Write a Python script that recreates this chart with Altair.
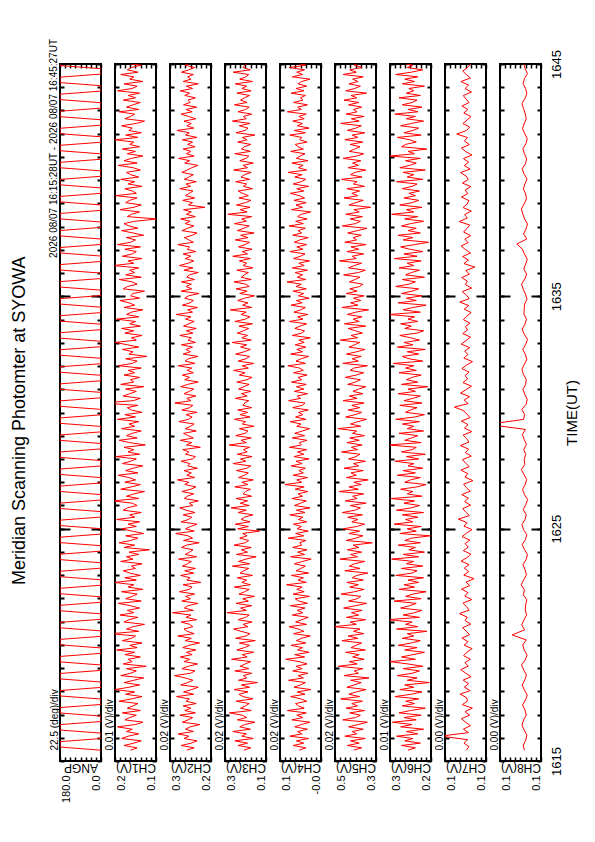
import altair as alt
import numpy as np
import pandas as pd

FONT = "Liberation Sans"

# time span (minutes after 16:00)
T_START = 15 + 28 / 60.0   # 16:15:28
T_END = 45 + 27 / 60.0     # 16:45:27
TIME_TICKS = [15, 25, 35, 45]
TIME_LABELS = ["1615", "1625", "1635", "1645"]

TITLE = "Meridian Scanning Photomter at SYOWA"
DATE_TEXT = "2026 08/07 16:15:28UT - 2026 08/07 16:45:27UT"

# ---- scan angle (ANGP): turning points, seconds after 16:15:00, and angle (deg)
ANGP_SEC = [28, 36, 50, 58, 72, 80, 94, 102, 116, 124, 138, 146, 160, 168, 182, 190,
            204, 212, 226, 234, 248, 256, 270, 278, 292, 300, 314, 322, 336, 344, 358, 366,
            380, 388, 402, 410, 424, 432, 446, 454, 468, 476, 490, 498, 512, 520, 534, 542,
            556, 564, 578, 586, 600, 608, 622, 630, 644, 652, 666, 674, 688, 696, 710, 718,
            732, 740, 754, 762, 776, 784, 798, 806, 820, 828, 842, 850, 864, 872, 886, 894,
            908, 916, 930, 938, 952, 960, 974, 982, 996, 1004, 1018, 1026, 1040, 1048, 1062, 1070,
            1084, 1092, 1106, 1114, 1128, 1136, 1150, 1158, 1172, 1180, 1194, 1202,
            1216, 1224, 1238, 1246, 1260, 1268, 1282, 1290, 1304, 1312, 1326, 1334,
            1348, 1356, 1370, 1378, 1392, 1400, 1414, 1422, 1436, 1444, 1458, 1466,
            1480, 1488, 1502, 1510, 1524, 1532, 1546, 1554, 1568, 1576, 1590, 1598,
            1612, 1620, 1634, 1642, 1656, 1664, 1678, 1686, 1700, 1708, 1722, 1730,
            1744, 1752, 1766, 1774, 1788, 1796, 1810, 1818, 1827]
ANGP_DEG = [0, 180, 180, 0, 0, 180, 180, 0, 0, 180, 180, 0, 0, 180, 180, 0,
            0, 180, 180, 0, 0, 180, 180, 0, 0, 180, 180, 0, 0, 180, 180, 0,
            0, 180, 180, 0, 0, 180, 180, 0, 0, 180, 180, 0, 0, 180, 180, 0,
            0, 180, 180, 0, 0, 180, 180, 0, 0, 180, 180, 0, 0, 180, 180, 0,
            0, 180, 180, 0, 0, 180, 180, 0, 0, 180, 180, 0, 0, 180, 180, 0,
            0, 180, 180, 0, 0, 180, 180, 0, 0, 180, 180, 0, 0, 180, 180, 0,
            0, 180, 180, 0, 0, 180, 180, 0, 0, 180, 180, 0,
            0, 180, 180, 0, 0, 180, 180, 0, 0, 180, 180, 0,
            0, 180, 180, 0, 0, 180, 180, 0, 0, 180, 180, 0,
            0, 180, 180, 0, 0, 180, 180, 0, 0, 180, 180, 0,
            0, 180, 180, 0, 0, 180, 180, 0, 0, 180, 180, 0,
            0, 180, 180, 0, 0, 180, 180, 0, 0]

# ---- photometer channels (mV), evenly sampled over the time span
CH1 = [141,133,149,137,128,152,144,131,146,139,157,135,126,148,142,134,151,129,145,138,
       132,155,140,127,147,136,160,143,130,149,137,125,153,141,134,146,122,150,139,144,
       129,148,136,158,133,142,127,151,140,135,165,131,146,138,124,149,143,132,154,137,
       145,130,141,156,128,147,139,133,152,126,144,137,161,134,148,129,142,150,135,140,
       127,153,138,146,131,143,118,149,136,155,141,132,147,125,139,152,134,144,130,158,
       136,142,128,150,145,133,139,163,131,146,137,124,153,140,129,148,135,143,156,132,
       147,138,126,151,141,134,159,130,144,137,149,123,142,155,133,146,139,128,152,136,
       143,131,157,135,148,127,140,145,132,176,138,129,150,142,134,147,125,153,137,141,
       130,149,136,144,128,156,139,133,147,121,143,138,151,131,145,160,134,140,127,148,
       137,152,129,142,135,158,131,146,140,126,149,136,143,154,130,141,138,124,150,145,
       133,139,155,128,147,136,142,131,162,137,144,127,151,139,134,148,129,157,141,135,
       146,125,138,152,132,143,149,136,108,145,140,130,154,137,128,147,142,133,159,134,
       139,148,127,144,136,153,131,141,146,129,138,156,133,149,140,126,145,135,151,130,
       142,137,160,132,147,128,143,139,152,134,124,148,141,136,155,131,146,138,129,150,
       135,144,130,157,139,133,149,126,142,137,153,132,145,140,128,151,136,143,134,147]
CH2 = [254,236,268,243,229,261,249,275,238,257,246,222,265,251,240,271,233,259,244,263,
       231,256,248,279,237,262,242,226,269,252,239,258,284,245,234,266,250,228,261,247,
       270,241,255,232,264,249,223,258,243,276,236,253,261,239,247,268,230,256,244,289,
       238,260,251,227,266,245,257,235,272,248,241,263,220,254,246,269,237,259,233,265,
       252,243,274,230,258,247,239,267,255,224,262,240,251,281,236,257,245,229,268,250,
       242,263,234,256,271,239,248,226,260,253,237,266,244,232,259,249,277,235,254,243,
       261,228,252,246,268,240,233,257,249,264,221,255,242,270,238,251,262,231,258,245,
       236,273,250,241,256,229,266,247,239,283,244,254,232,261,248,237,269,252,226,259,
       247,265,238,253,242,275,234,258,250,227,263,245,256,240,267,233,251,243,271,239,
       255,231,262,249,236,257,244,280,240,252,228,265,246,238,259,250,224,268,242,256,
       243,267,235,254,248,226,261,239,272,251,237,258,244,263,232,253,247,276,238,249,
       260,241,229,266,252,237,258,246,269,233,255,243,262,210,250,240,264,235,257,248,
       239,271,245,256,231,260,249,238,266,253,242,227,259,247,274,236,255,244,263,234,
       252,240,265,229,257,248,278,237,254,243,261,232,250,268,241,256,230,262,246,251,
       233,259,247,270,240,255,226,263,244,252,238,267,249,235,258,245,272,239,253,246]
CH3 = [204,187,218,195,226,181,209,198,231,188,214,202,177,220,197,208,239,186,212,200,
       191,223,182,206,216,194,228,190,210,171,217,197,205,185,226,192,213,201,187,234,
       196,208,180,221,203,190,215,176,224,199,189,211,229,194,206,184,218,200,191,245,
       198,212,185,223,193,207,178,216,202,191,227,188,209,197,220,183,213,204,192,232,
       190,217,199,174,222,195,210,186,228,201,192,214,196,207,166,219,193,225,189,211,
       202,182,218,198,235,191,213,195,223,185,206,200,188,226,194,209,181,217,203,193,
       222,197,187,230,199,212,184,220,196,205,190,240,198,211,186,224,201,194,215,179,
       208,200,227,189,213,195,219,185,206,202,192,225,196,210,187,217,204,191,221,197,
       184,215,201,229,193,208,180,218,199,190,224,203,188,212,197,233,186,209,195,220,
       205,192,216,183,226,200,189,211,198,237,185,207,194,219,202,178,214,196,223,191,
       199,228,186,210,203,193,221,182,206,197,215,188,231,195,208,184,217,201,190,225,
       194,212,179,220,204,191,227,198,209,185,243,196,213,189,222,200,187,216,193,207,
       218,183,205,197,224,190,211,202,186,229,195,206,181,214,199,192,226,188,210,203,
       187,219,196,208,177,223,201,194,215,189,232,198,205,185,218,200,191,227,196,212,
       203,190,221,186,209,197,225,183,214,199,192,230,188,206,202,195,217,184,211,198]
CH4 = [63,47,78,52,70,40,86,56,67,43,74,58,37,81,54,69,46,92,51,65,
       72,45,59,84,49,68,35,76,60,48,89,53,66,42,79,56,71,44,63,96,
       50,74,39,67,55,83,47,70,58,36,77,52,65,88,45,72,57,41,80,54,
       68,49,85,43,64,73,38,78,51,69,56,94,46,66,53,82,40,71,59,48,
       75,55,34,84,50,67,44,79,57,62,47,90,52,72,41,68,58,77,45,65,
       54,86,49,70,37,75,60,46,81,55,66,42,73,51,98,57,69,43,78,53,
       64,48,83,56,71,39,76,52,67,45,87,58,63,44,80,50,74,55,38,69,
       59,85,47,72,54,65,41,79,56,49,89,60,68,43,75,52,70,46,82,57,
       66,44,77,53,62,91,48,71,58,40,84,55,69,47,73,51,64,36,80,57,
       50,74,61,45,87,54,67,42,76,59,48,83,56,70,39,65,52,78,46,71,
       58,93,47,68,55,73,43,80,51,64,38,77,60,49,86,54,69,45,75,62,
       41,79,57,66,48,88,53,72,44,67,59,35,82,55,71,46,76,50,63,85,
       52,69,40,78,58,47,74,56,90,45,65,54,81,42,70,61,49,84,53,66,
       73,44,62,57,86,48,75,39,68,55,79,51,64,46,92,58,67,43,77,54,
       60,48,83,52,71,45,66,57,37,80,55,69,50,87,47,74,59,42,76,61]
CH5 = [384,365,400,371,392,356,406,377,388,361,397,373,351,411,380,368,394,358,403,375,
       389,363,416,370,396,378,354,401,384,366,392,347,408,373,383,362,422,376,395,359,
       387,371,404,356,391,379,365,413,374,398,360,385,369,433,378,393,355,402,372,390,
       364,409,380,353,397,376,367,415,382,359,394,373,401,361,388,377,350,406,369,395,
       383,357,418,375,392,365,400,372,386,339,403,379,362,396,370,410,377,358,389,374,
       399,363,412,381,368,393,354,405,376,387,360,420,373,396,366,384,349,402,378,391,
       361,408,372,385,356,397,379,369,414,375,390,364,401,371,394,358,387,377,423,367,
       392,374,353,404,381,365,398,370,389,359,410,376,395,362,386,372,355,399,380,368,
       405,378,360,393,384,351,411,373,388,366,402,377,357,396,382,369,417,375,391,363,
       380,398,355,407,371,386,364,400,379,348,413,374,392,367,385,359,403,376,394,370,
       362,395,381,369,409,373,356,397,383,365,419,378,388,360,401,372,391,354,406,377,
       386,366,399,375,352,412,380,368,393,363,404,371,384,343,396,379,361,408,374,389,
       370,401,358,385,376,414,364,392,381,355,398,373,387,367,410,377,360,395,382,369,
       393,362,406,374,388,357,400,379,366,416,371,390,359,403,376,385,365,397,372,408,
       377,391,353,404,382,368,396,374,387,361,410,378,394,364,383,371,357,399,380,386]
CH6 = [263,254,271,248,267,257,277,251,265,244,272,258,282,253,268,247,274,260,242,270,
       255,266,250,279,259,246,273,256,267,237,264,252,276,258,249,269,245,263,285,254,
       271,257,243,267,252,275,259,248,270,256,264,240,277,251,266,258,288,249,269,255,
       246,272,261,253,280,247,266,257,241,274,255,268,250,263,244,278,258,252,271,245,
       265,256,283,250,269,243,262,254,275,248,267,259,236,273,253,264,247,280,257,266,
       251,270,244,277,259,249,268,255,284,246,264,257,272,252,241,267,260,248,276,254,
       269,245,263,256,279,250,265,242,271,258,253,287,247,267,259,251,274,244,264,256,
       270,249,278,255,243,266,260,252,273,246,268,257,248,275,254,263,239,271,251,265,
       258,247,274,253,266,256,281,245,262,270,250,264,242,276,257,268,249,260,273,252,
       244,267,259,272,251,263,255,286,248,269,257,241,275,253,265,246,271,258,250,278,
       262,254,270,243,266,259,249,274,256,264,247,280,252,268,245,261,272,255,238,269,
       257,275,248,263,253,271,260,244,267,251,283,256,265,246,273,258,250,268,254,262,
       249,270,258,252,277,245,264,256,269,242,273,261,253,266,248,285,255,263,240,271,
       266,253,261,276,247,268,257,250,272,259,244,265,254,279,251,263,246,270,258,252,
       274,248,265,256,262,243,270,255,267,251,278,259,245,264,257,272,249,261,253,268]
CH7 = [106.4,104.9,107.8,105.6,121.6,105.2,108.1,104.0,106.9,109.3,104.5,107.2,102.9,108.8,105.8,106.2,110.1,104.2,107.5,105.1,
       108.3,103.6,106.8,109.7,105.3,107.2,104.1,108.0,106.1,103.0,107.7,105.4,109.0,104.5,106.5,108.6,103.8,107.1,105.9,110.4,
       104.8,106.3,108.4,103.3,107.3,105.5,109.2,104.4,106.6,101.9,107.9,105.0,107.6,104.8,109.5,106.0,103.7,108.2,105.3,107.1,
       104.3,108.9,106.3,103.1,107.8,106.0,111.1,104.6,106.7,108.5,103.9,107.4,105.2,109.1,104.1,106.4,108.0,102.6,107.2,105.6,
       109.6,104.7,106.8,108.7,103.5,107.0,105.1,109.9,104.9,106.2,108.3,103.2,107.5,105.4,109.3,104.2,106.1,108.1,113.4,105.3,
       107.7,104.5,109.8,106.5,103.4,108.4,105.7,107.1,104.8,109.0,106.3,102.8,107.9,105.5,107.3,104.4,109.4,106.6,104.0,108.5,
       105.7,106.9,104.3,108.2,106.1,103.6,107.6,105.0,110.2,104.7,106.4,108.8,103.3,107.0,105.8,109.1,104.6,106.7,101.5,107.8,
       105.2,108.6,104.0,106.9,109.5,105.4,107.3,103.9,108.0,106.2,104.4,110.6,105.9,107.4,103.5,108.3,106.0,104.9,109.2,105.6,
       107.1,103.8,108.7,105.3,106.5,109.8,104.2,107.7,105.0,108.1,103.1,106.8,109.3,104.6,107.5,105.7,112.0,106.3,104.5,108.4,
       106.0,103.7,107.9,105.5,109.0,104.8,106.6,108.2,103.4,107.2,105.1,109.6,104.1,106.4,108.5,105.8,103.9,107.6,105.4,106.8]
CH8 = [96.8,97.4,96.1,95.6,96.9,98.0,97.2,95.9,96.5,97.7,96.3,95.4,96.8,97.9,96.6,95.8,97.1,98.2,96.4,95.5,
       96.9,97.6,95.9,102.8,96.7,98.1,97.0,95.7,96.4,96.2,95.6,97.3,96.8,98.4,97.1,95.8,96.5,97.5,96.0,95.3,
       96.7,97.9,96.3,95.6,97.2,98.0,96.5,95.9,97.4,96.1,95.2,96.8,97.7,96.4,95.7,97.0,98.3,96.6,96.9,96.2,
       97.1,95.8,96.9,97.8,96.3,114.5,97.2,96.7,98.1,96.0,95.4,96.6,97.5,96.2,95.9,97.3,98.0,96.8,95.6,96.4,
       97.6,96.1,95.3,96.9,97.9,96.5,95.8,97.0,96.9,96.7,95.5,96.3,97.4,98.2,96.6,95.7,97.1,96.2,95.4,96.8,
       97.8,100.5,95.6,97.2,96.0,95.3,96.7,97.6,98.3,96.9,95.8,96.2,97.3,96.5,95.5,97.0,97.9,96.3,95.7,96.8,
       97.5,96.1,95.4,96.6,97.7,96.9,95.9,96.4,97.2,98.0,96.6,95.6,96.2,97.4,96.8,95.3,96.5,97.1,96.0,96.7]

CHANNELS = ["CH1(V)", "CH2(V)", "CH3(V)", "CH4(V)", "CH5(V)", "CH6(V)", "CH7(V)", "CH8(V)"]
CH_DATA = [CH1, CH2, CH3, CH4, CH5, CH6, CH7, CH8]
SCALE_TEXT = ["0.01 (V)/div", "0.02 (V)/div", "0.02 (V)/div", "0.02 (V)/div",
              "0.02 (V)/div", "0.01 (V)/div", "0.00 (V)/div", "0.00 (V)/div"]
# value-axis ranges (V) of each panel, right end (lo) and left end (hi)
AX_LO = [0.110, 0.195, 0.150, 0.010, 0.330, 0.235, 0.0949, 0.0887]
AX_HI = [0.160, 0.295, 0.250, 0.110, 0.430, 0.285, 0.1189, 0.1087]
LABEL_HI = ["0.2", "0.3", "0.3", "0.1", "0.5", "0.3", "0.1", "0.1"]
LABEL_LO = ["0.1", "0.2", "0.1", "-0.0", "0.3", "0.2", "0.1", "0.1"]

W, H = 41, 697
MINUTES = list(range(15, 46))
MAJOR = [25, 35]


def panel(df, lo, hi, lab_hi, lab_lo, xtitle, ytitle, first=False, last=False):
    step = (hi - lo) / 8.0
    xticks = [lo + step * k for k in range(9)]
    mid = (lo + hi) / 2.0
    xs = alt.Scale(domain=[lo, hi], reverse=True, nice=False, zero=False)
    ys = alt.Scale(domain=[15, 45], nice=False, zero=False)
    label_expr = (f"datum.value > {hi - step / 2} ? '{lab_hi}' : "
                  f"(datum.value < {lo + step / 2} ? '{lab_lo}' : '')")

    line = alt.Chart(df).mark_line(color="#ff0000", strokeWidth=1, clip=True).encode(
        x=alt.X("v:Q", scale=xs, axis=alt.Axis(
            orient="bottom", offset=-4, tickSize=4, tickWidth=1.5, values=xticks,
            domain=False, grid=False, labelExpr=label_expr, labelAngle=270,
            labelAlign="right",
            labelBaseline={"condition": {"test": f"datum.value > {mid}", "value": "top"},
                           "value": "bottom"},
            labelPadding=14, labelFontSize=11, labelOverlap=False, labelFlush=False,
            labelBound=False,
            title=xtitle, titleAngle=180, titleAlign="center", titleBaseline="middle",
            titleX=W / 2, titleY=10, titleFontSize=12)),
        y=alt.Y("t:Q", scale=ys, axis=alt.Axis(
            orient="left", offset=-4, tickSize=4, tickWidth=2, values=MINUTES,
            labels=False, domain=False, grid=False,
            title=ytitle, titleAngle=270, titleAlign="left", titleBaseline="bottom",
            titleX=-5, titleY=686, titleFontSize=10)),
        order=alt.Order("t:Q"),
    )
    ends = pd.DataFrame({"t": [15, 45], "v": [lo, hi]})
    ghost = alt.Chart(ends).mark_point(opacity=0)
    top_right = ghost.encode(
        x=alt.X("v:Q", scale=xs, axis=alt.Axis(
            orient="top", offset=-4, tickSize=4, tickWidth=1.5, values=xticks,
            labels=False, domain=False, grid=False, title=None)),
        y=alt.Y("t:Q", scale=ys, axis=alt.Axis(
            orient="right", offset=-4, tickSize=4, tickWidth=2, values=MINUTES,
            labels=False, domain=False, grid=False, title=None)),
    )
    maj_left = ghost.encode(
        x=alt.X("v:Q", scale=xs, axis=None),
        y=alt.Y("t:Q", scale=ys, axis=alt.Axis(
            orient="left", offset=-10, tickSize=10, tickWidth=2, values=MAJOR,
            labels=False, domain=False, grid=False, title=None)),
    )
    maj_right = ghost.encode(
        x=alt.X("v:Q", scale=xs, axis=None),
        y=alt.Y("t:Q", scale=ys, axis=alt.Axis(
            orient="right", offset=-10, tickSize=10, tickWidth=2, values=MAJOR,
            labels=False, domain=False, grid=False, title=None)),
    )
    layers = [line, top_right, maj_left, maj_right]
    if last:
        time_expr = " : ".join(
            [f"datum.value == {v} ? '{s}'" for v, s in zip(TIME_TICKS, TIME_LABELS)]) + " : ''"
        layers.append(ghost.encode(
            x=alt.X("v:Q", scale=xs, axis=None),
            y=alt.Y("t:Q", scale=ys, axis=alt.Axis(
                orient="right", offset=0, ticks=False, values=TIME_TICKS,
                labelExpr=time_expr, labelAngle=270, labelAlign="center",
                labelBaseline="top", labelPadding=9, labelFontSize=13,
                labelOverlap=False, labelFlush=False, labelBound=False,
                domain=False, grid=False,
                title="TIME(UT)", titleAngle=270, titleAlign="center",
                titleBaseline="top", titleX=23, titleY=H / 2, titleFontSize=15)),
        ))
    if first:
        dt = pd.DataFrame({"label": [DATE_TEXT]})
        layers.append(alt.Chart(dt).mark_text(
            angle=270, align="right", baseline="bottom", fontSize=10, font=FONT,
            color="black").encode(
            x=alt.value(-1), y=alt.value(-25), text="label:N"))
    return alt.layer(*layers).resolve_axis(
        x="independent", y="independent").properties(width=W, height=H)


# ANGP panel data
angp_df = pd.DataFrame({"t": [15 + s / 60.0 for s in ANGP_SEC], "v": ANGP_DEG})
panels = [panel(angp_df, 0.0, 180.0, "180.0", "0.0", "ANGP", "22.5 (deg)/div", first=True)]

for i in range(8):
    vals = CH_DATA[i]
    df = pd.DataFrame({"t": np.linspace(T_START, T_END, len(vals)),
                       "v": [x / 1000.0 for x in vals]})
    panels.append(panel(df, AX_LO[i], AX_HI[i], LABEL_HI[i], LABEL_LO[i],
                        CHANNELS[i], SCALE_TEXT[i], last=(i == 7)))

chart = alt.hconcat(*panels, spacing=14, bounds="flush").properties(
    title=alt.TitleParams(TITLE, orient="left", anchor="middle", fontSize=18,
                          font=FONT, fontWeight="normal", color="black", offset=19),
    padding={"left": 2, "top": 30, "right": 0, "bottom": 0},
).configure_view(
    stroke="black", strokeWidth=2
).configure_axis(
    labelFont=FONT, titleFont=FONT, titleFontWeight="normal",
    labelColor="black", titleColor="black", tickColor="black"
)

chart.save("out.html", embed_options={"renderer": "svg", "actions": False})
